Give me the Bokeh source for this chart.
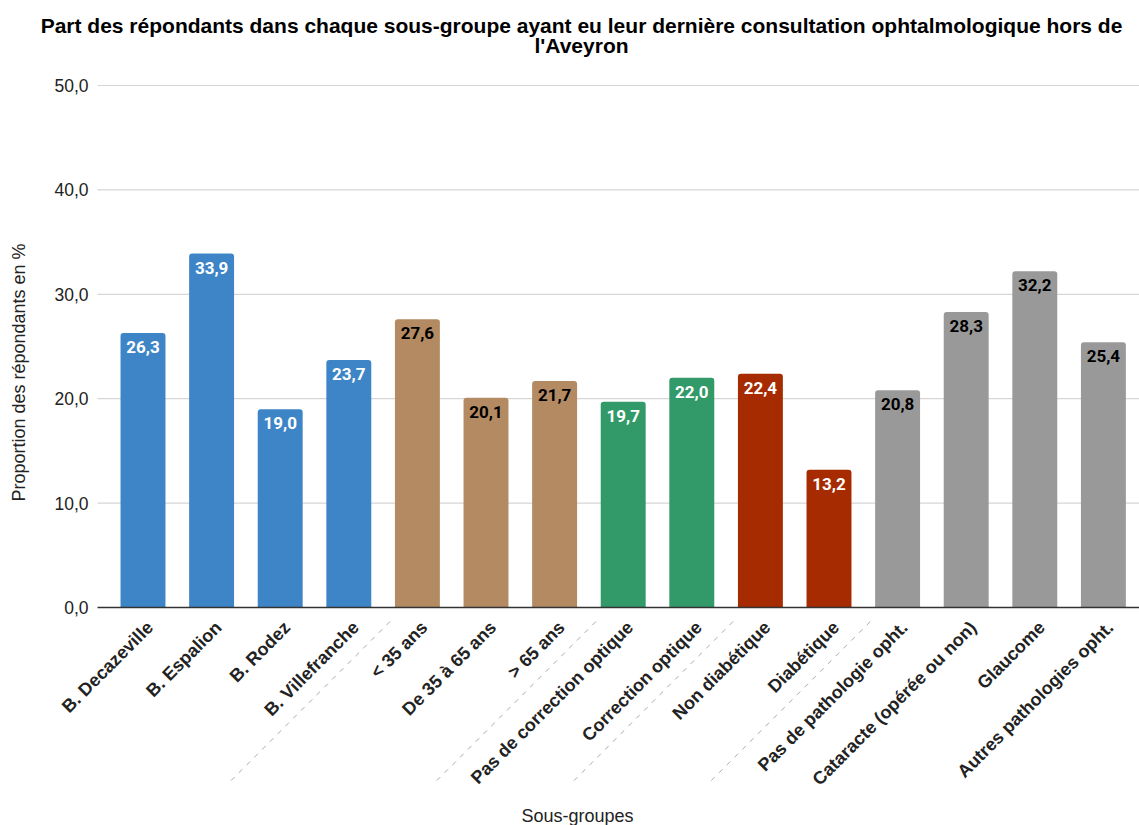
import math
from bokeh.plotting import figure
from bokeh.models import ColumnDataSource, Range1d
from bokeh.core.properties import value
from bokeh.embed import file_html
from bokeh.resources import INLINE

categories = ["B. Decazeville", "B. Espalion", "B. Rodez", "B. Villefranche",
              "< 35 ans", "De 35 à 65 ans", "> 65 ans",
              "Pas de correction optique", "Correction optique",
              "Non diabétique", "Diabétique",
              "Pas de pathologie opht.", "Cataracte (opérée ou non)", "Glaucome",
              "Autres pathologies opht."]
values = [26.3, 33.9, 19.0, 23.7, 27.6, 20.1, 21.7, 19.7, 22.0, 22.4, 13.2,
          20.8, 28.3, 32.2, 25.4]
group_sizes = [4, 3, 2, 2, 4]
group_colors = ["#3d85c6", "#b38a62", "#319a68", "#a62b00", "#999999"]
group_label_colors = ["white", "black", "white", "white", "black"]
y_ticks = [0, 10, 20, 30, 40, 50]
y_tick_labels = ["0,0", "10,0", "20,0", "30,0", "40,0", "50,0"]
title_lines = ["Part des répondants dans chaque sous-groupe ayant eu leur dernière "
               "consultation ophtalmologique hors de", "l'Aveyron"]
x_title = "Sous-groupes"
y_title = "Proportion des répondants en %"

# ---- layout (pixels on the 1139x825 canvas) ----
W, H = 1139, 825
GRID_LEFT, TOP, ZERO_PX = 97, 85, 607    # gridline start, row of y=50, row of y=0
FIRST_CENTER, STEP = 142.5, 68.6         # pixel centre of first bar, bar spacing
PX_Y = (ZERO_PX - TOP) / 50.0


def dx(px):
    return (px - FIRST_CENTER) / STEP


def dy(py):
    return (ZERO_PX - py) / PX_Y


idx = list(range(len(categories)))
colors, label_colors = [], []
for n, c, lc in zip(group_sizes, group_colors, group_label_colors):
    colors += [c] * n
    label_colors += [lc] * n

src = ColumnDataSource(dict(
    x=idx, cat=categories, val=values, color=colors, lcolor=label_colors,
    lx=[i + 7 / STEP for i in idx], ly=[dy(ZERO_PX + 17)] * len(idx),
    txt=[f"{v:.1f}".replace(".", ",") for v in values],
))

p = figure(width=W, height=H, x_range=Range1d(dx(0), dx(W)),
           y_range=Range1d(dy(H), dy(0)), output_backend="svg",
           toolbar_location=None, min_border=0)
p.outline_line_color = None
p.background_fill_color = "white"
p.border_fill_color = "white"
p.title.visible = False
p.axis.visible = False
p.grid.visible = False

# horizontal gridlines at the y ticks
grid_ticks = [t for t in y_ticks if t != 0]
p.segment(x0=[dx(GRID_LEFT)] * len(grid_ticks), y0=grid_ticks,
          x1=[dx(W)] * len(grid_ticks), y1=grid_ticks,
          line_color="#d6d6d6", line_width=1.2)

# y tick labels
p.text(x=[dx(GRID_LEFT - 9)] * len(y_ticks), y=y_ticks, text=y_tick_labels,
       text_align="right", text_baseline="middle",
       text_font=value("Liberation Sans"), text_font_size="17.5px",
       text_color="#222222")

# bars and value labels
p.vbar(x="x", top="val", width=0.655, source=src, fill_color="color",
       line_color=None, border_radius=(3, 3, 0, 0))
p.text(x="x", y="val", text="txt", source=src, text_color="lcolor",
       text_align="center", text_baseline="top", y_offset=8,
       text_font=value("Roboto"), text_font_size="17px", text_font_style="bold")

# baseline at 0
p.segment(x0=[dx(GRID_LEFT)], y0=[0], x1=[dx(W)], y1=[0],
          line_color="#333333", line_width=1.5)

# category labels (rotated)
p.text(x="lx", y="ly", text="cat", source=src, angle=math.pi / 4,
       text_align="right", text_baseline="middle",
       text_font=value("Liberation Sans"), text_font_size="18px",
       text_font_style="bold", text_color="#222222")

# group separators (dashed diagonals under the axis)
bounds = []
acc = 0
for n in group_sizes[:-1]:
    acc += n
    bounds.append(acc - 0.5)
x0 = [b + 7 / STEP for b in bounds]
x1 = [x - 163 / STEP for x in x0]
p.segment(x0=x0, y0=[dy(ZERO_PX + 14)] * len(bounds), x1=x1,
          y1=[dy(ZERO_PX + 177)] * len(bounds), line_color="#aaaaaa",
          line_width=1, line_dash="5 6")

# titles
p.text(x=[dx(581)] * 2, y=[dy(25), dy(45)], text=title_lines,
       text_align="center", text_baseline="middle",
       text_font=value("Liberation Sans"), text_font_size="21px",
       text_font_style="bold", text_color="black")
p.text(x=[dx(577)], y=[dy(815)], text=[x_title], text_align="center",
       text_baseline="middle", text_font=value("Liberation Sans"),
       text_font_size="18px", text_color="#222222")
p.text(x=[dx(18)], y=[dy(372)], text=[y_title], angle=math.pi / 2,
       text_align="center", text_baseline="middle",
       text_font=value("Liberation Sans"), text_font_size="18px",
       text_color="#222222")

open("out.html", "w").write(file_html(p, INLINE))
